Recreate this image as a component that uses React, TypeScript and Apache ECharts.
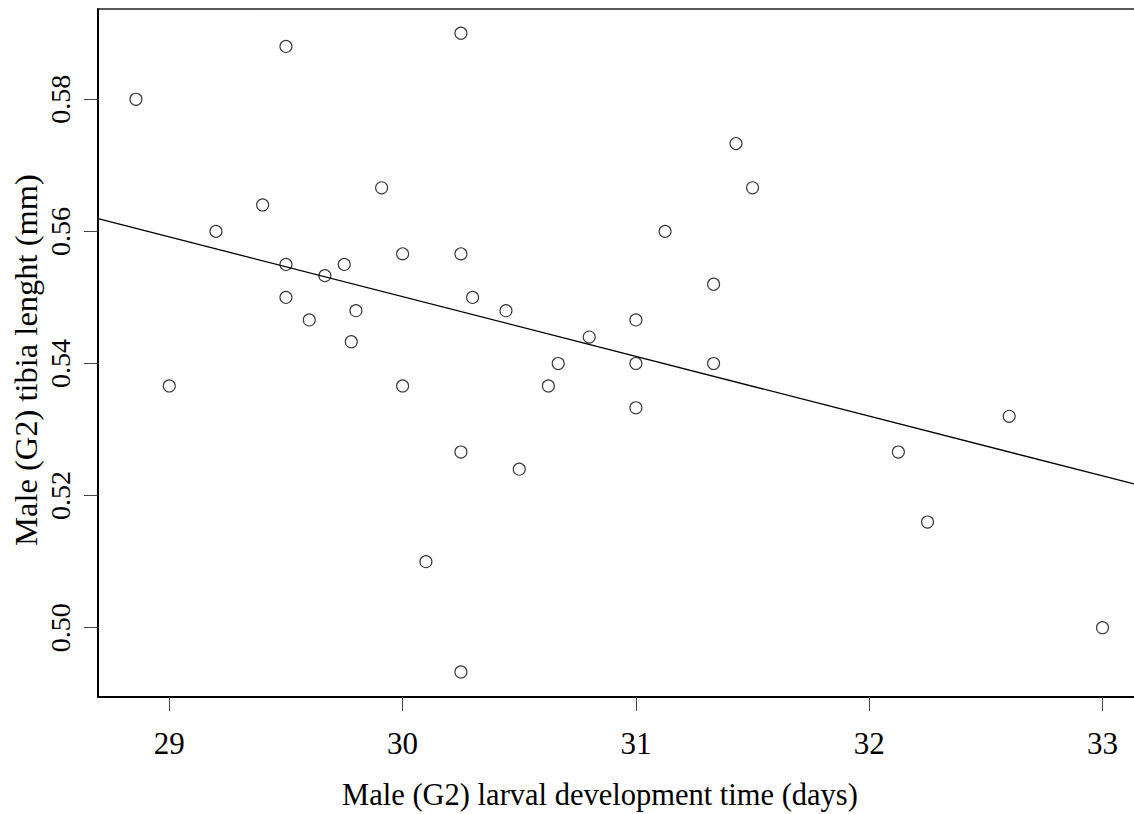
import React, { useEffect, useRef } from "react";
import * as echarts from "echarts";

// Male (G2) larval development time (days)
const X_DAYS: number[] = [
  28.857, 29.0, 29.2, 29.4, 29.5, 29.5, 29.5, 29.6, 29.667, 29.75,
  29.78, 29.8, 29.91, 30.0, 30.0, 30.1, 30.25, 30.25, 30.25, 30.25,
  30.3, 30.443, 30.5, 30.625, 30.667, 30.8, 31.0, 31.0, 31.0, 31.125,
  31.333, 31.333, 31.429, 31.5, 32.125, 32.25, 32.6, 33.0,
];
// Male (G2) tibia length (mm)
const Y_TIBIA: number[] = [
  0.58, 0.5366, 0.56, 0.564, 0.588, 0.555, 0.55, 0.5466, 0.5533, 0.555,
  0.5433, 0.548, 0.5666, 0.5566, 0.5366, 0.51, 0.59, 0.5566, 0.5266, 0.4933,
  0.55, 0.548, 0.524, 0.5366, 0.54, 0.544, 0.5466, 0.54, 0.5333, 0.56,
  0.552, 0.54, 0.5733, 0.5666, 0.5266, 0.516, 0.532, 0.5,
];

const X_TICKS: number[] = [29, 30, 31, 32, 33];
const Y_TICKS: number[] = [0.5, 0.52, 0.54, 0.56, 0.58];

const X_TITLE = "Male (G2) larval development time (days)";
const Y_TITLE = "Male (G2) tibia lenght (mm)";

// fitted regression line
const FIT_INTERCEPT = 0.8215;
const FIT_SLOPE = -0.009046;

const X_MIN = 28.6944;
const X_MAX = 33.135;
const Y_MIN = 0.48951;
const Y_MAX = 0.59367;

const FONT = "'Liberation Serif', 'Times New Roman', serif";

export default function App() {
  const ref = useRef<HTMLDivElement>(null);

  useEffect(() => {
    if (!ref.current) return;
    const chart = echarts.init(ref.current, undefined, { renderer: "svg" });
    const points = X_DAYS.map((x, i) => [x, Y_TIBIA[i]]);
    const fit = [
      [X_MIN, FIT_INTERCEPT + FIT_SLOPE * X_MIN],
      [X_MAX, FIT_INTERCEPT + FIT_SLOPE * X_MAX],
    ];
    chart.setOption({
      animation: false,
      backgroundColor: "#ffffff",
      textStyle: { fontFamily: FONT },
      grid: {
        left: 98,
        top: 9,
        right: 0,
        bottom: 117,
        show: false,
      },
      xAxis: [
        {
          type: "value",
          min: X_MIN,
          max: X_MAX,
          position: "bottom",
          axisLine: { show: true, onZero: false, lineStyle: { color: "#000", width: 2 } },
          axisTick: {
            show: true,
            length: 14,
            customValues: X_TICKS,
            lineStyle: { color: "#444", width: 1 },
          },
          axisLabel: {
            customValues: X_TICKS,
            fontFamily: FONT,
            fontSize: 31,
            color: "#000",
            margin: 31,
            formatter: (v: number) => String(Math.round(v)),
          },
          splitLine: { show: false },
        },
        {
          type: "value",
          min: X_MIN,
          max: X_MAX,
          position: "top",
          axisLine: { show: true, onZero: false, lineStyle: { color: "#222", width: 1.5 } },
          axisTick: { show: false },
          axisLabel: { show: false },
          splitLine: { show: false },
        },
      ],
      yAxis: {
        type: "value",
        min: Y_MIN,
        max: Y_MAX,
        axisLine: { show: true, onZero: false, lineStyle: { color: "#000", width: 2 } },
        axisTick: {
          show: true,
          length: 14,
          customValues: Y_TICKS,
          lineStyle: { color: "#444", width: 1 },
        },
        axisLabel: {
          customValues: Y_TICKS,
          rotate: 90,
          fontFamily: FONT,
          fontSize: 28,
          color: "#000",
          margin: 24,
          formatter: (v: number) => v.toFixed(2),
        },
        splitLine: { show: false },
      },
      graphic: [
        {
          type: "text",
          x: 600,
          y: 795,
          style: {
            text: X_TITLE,
            fontFamily: FONT,
            fontSize: 30.5,
            fill: "#000",
            textAlign: "center",
            textVerticalAlign: "middle",
          },
        },
        {
          type: "text",
          x: 26,
          y: 360,
          rotation: Math.PI / 2,
          style: {
            text: Y_TITLE,
            fontFamily: FONT,
            fontSize: 32.5,
            fill: "#000",
            textAlign: "center",
            textVerticalAlign: "middle",
          },
        },
      ],
      series: [
        {
          type: "line",
          xAxisIndex: 0,
          data: fit,
          showSymbol: false,
          symbol: "none",
          lineStyle: { color: "#000", width: 1.3 },
          silent: true,
          z: 2,
        },
        {
          type: "scatter",
          xAxisIndex: 0,
          data: points,
          symbol: "circle",
          symbolSize: 12,
          itemStyle: { color: "rgba(0,0,0,0)", borderColor: "#000", borderWidth: 1.1 },
          z: 3,
        },
      ],
    });
    return () => chart.dispose();
  }, []);

  return (
    <div
      ref={ref}
      style={{ position: "absolute", left: 0, top: 0, width: 1134, height: 814, background: "#fff" }}
    />
  );
}
